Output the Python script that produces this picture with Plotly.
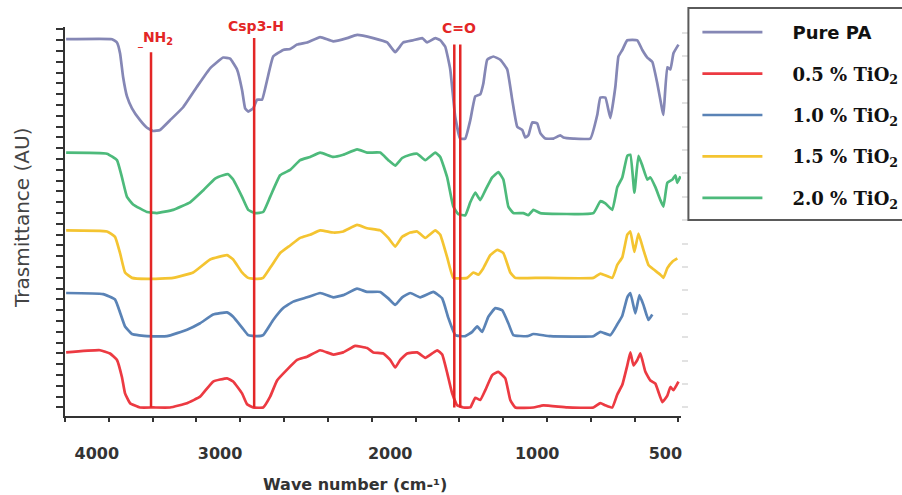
import plotly.graph_objects as go

# ---------------- data (wavenumber, transmittance AU) ----------------
pure_wn = [4190, 3906, 3875, 3856, 3837, 3813, 3782, 3732, 3689, 3651,
           3608, 3546, 3465, 3379, 3298, 3217, 3174, 3131, 3100, 3081,
           3062, 3031, 3007, 2976, 2945, 2907, 2845, 2802, 2759, 2697,
           2616, 2535, 2449, 2387, 2287, 2201, 2151, 2101, 2039, 1984,
           1953, 1903, 1872, 1841, 1810, 1779, 1748, 1717, 1686, 1655,
           1624, 1605, 1581, 1543, 1500, 1457, 1426, 1395, 1364, 1345,
           1326, 1302, 1271, 1252, 1221, 1171, 1128, 1109, 1047, 942,
           899, 880, 849, 818, 787, 768, 744, 713, 651, 620,
           589, 558, 527, 496, 489, 465, 446, 427, 396]
pure_t = [34.1, 34.1, 33.8, 32.8, 30.6, 28.8, 27.7, 26.6, 25.9, 25.6,
          25.7, 26.6, 27.8, 29.7, 31.4, 32.4, 32.3, 31.3, 29.4, 27.7,
          27.4, 27.7, 28.5, 28.5, 30.3, 32.5, 33.1, 33.2, 33.6, 33.8,
          34.3, 33.9, 34.2, 34.5, 34.2, 33.8, 32.9, 33.8, 34.0, 34.2,
          33.8, 34.2, 34.0, 33.4, 31.3, 26.9, 24.9, 24.9, 26.6, 28.8,
          29.0, 30.0, 32.2, 32.5, 32.2, 31.3, 28.5, 26.0, 25.7, 25.0,
          25.2, 26.4, 26.3, 25.4, 24.9, 24.9, 25.2, 25.0, 24.9, 24.9,
          27.1, 28.7, 28.7, 26.8, 29.7, 32.5, 33.1, 34.0, 34.0, 33.1,
          32.4, 32.0, 30.0, 27.5, 27.1, 31.5, 31.3, 32.8, 33.6]

tio2_05_wn = [4190, 3980, 3918, 3875, 3844, 3825, 3794, 3732, 3651, 3546,
              3441, 3360, 3279, 3193, 3155, 3100, 3069, 3031, 2969, 2926,
              2883, 2821, 2759, 2697, 2616, 2535, 2473, 2399, 2325, 2287,
              2225, 2182, 2151, 2120, 2077, 2015, 1965, 1922, 1891, 1860,
              1829, 1798, 1767, 1729, 1686, 1655, 1624, 1593, 1550, 1512,
              1469, 1438, 1407, 1295, 1233, 1085, 923, 880, 849, 806,
              775, 744, 713, 694, 675, 651, 632, 601, 570, 539,
              496, 465, 446, 427, 396]
tio2_05_t = [5.1, 5.3, 5.0, 4.4, 2.8, 1.3, 0.4, 0.0, 0.0, 0.0,
             0.4, 1.0, 2.4, 2.7, 2.4, 1.3, 0.3, 0.0, 0.0, 1.0,
             2.5, 3.5, 4.4, 4.7, 5.3, 4.9, 5.1, 5.7, 5.5, 5.1,
             5.0, 4.4, 3.7, 4.4, 5.0, 5.1, 4.6, 5.0, 5.3, 4.9,
             3.2, 1.3, 0.2, 0.0, 0.0, 0.9, 0.7, 1.6, 3.0, 3.3,
             2.7, 0.7, 0.0, 0.0, 0.2, 0.0, 0.0, 0.4, 0.2, 0.0,
             1.2, 2.1, 3.9, 5.1, 3.9, 4.4, 5.0, 3.3, 2.5, 2.2,
             0.5, 1.1, 1.9, 1.6, 2.4]

tio2_10_wn = [4190, 3961, 3887, 3856, 3825, 3782, 3689, 3565, 3441, 3360,
              3279, 3193, 3155, 3100, 3062, 3007, 2969, 2907, 2845, 2783,
              2697, 2616, 2535, 2473, 2387, 2325, 2244, 2194, 2151, 2108,
              2058, 1996, 1915, 1860, 1822, 1779, 1717, 1674, 1643, 1612,
              1574, 1531, 1488, 1450, 1419, 1333, 1295, 1190, 923, 880,
              818, 775, 744, 713, 694, 663, 638, 613, 582, 558]
tio2_10_t = [10.6, 10.5, 10.0, 8.8, 7.5, 6.8, 6.6, 6.6, 7.2, 7.8,
             8.6, 8.8, 8.4, 7.4, 6.7, 6.6, 6.7, 8.1, 9.2, 9.8,
             10.2, 10.6, 10.2, 10.4, 11.0, 10.7, 10.7, 10.1, 9.5, 10.2,
             10.6, 10.2, 10.7, 10.1, 8.3, 6.7, 6.6, 7.0, 7.5, 7.0,
             8.4, 9.2, 9.0, 7.8, 6.7, 6.6, 6.8, 6.6, 6.6, 7.0,
             6.7, 7.7, 8.5, 10.2, 10.6, 8.7, 10.4, 9.5, 8.1, 8.6]

tio2_15_wn = [4190, 3937, 3887, 3856, 3825, 3782, 3689, 3527, 3403, 3298,
              3193, 3155, 3100, 3062, 3007, 2969, 2914, 2864, 2802, 2740,
              2678, 2616, 2535, 2473, 2387, 2325, 2244, 2194, 2151, 2108,
              2058, 2015, 1965, 1903, 1872, 1829, 1791, 1705, 1667, 1636,
              1605, 1562, 1519, 1481, 1438, 1407, 1252, 923, 880, 806,
              775, 744, 713, 694, 669, 644, 613, 582, 551, 508,
              489, 465, 434, 403]
tio2_15_t = [16.4, 16.3, 15.8, 14.3, 12.5, 12.0, 11.9, 12.0, 12.5, 13.7,
             14.1, 13.7, 12.5, 12.0, 11.9, 12.0, 13.2, 14.3, 15.0, 15.7,
             16.0, 16.4, 16.2, 16.3, 16.9, 16.6, 16.4, 15.7, 14.9, 15.8,
             16.2, 16.3, 15.7, 16.4, 16.0, 13.9, 12.0, 12.0, 12.5, 12.3,
             12.9, 14.1, 14.6, 14.3, 12.5, 12.0, 12.0, 12.0, 12.4, 12.0,
             13.2, 13.9, 16.0, 16.3, 14.4, 16.1, 14.6, 13.2, 12.8, 12.3,
             12.0, 12.9, 13.5, 13.8]

tio2_20_wn = [4190, 3937, 3875, 3844, 3813, 3775, 3689, 3627, 3527, 3422,
              3341, 3267, 3217, 3186, 3155, 3100, 3062, 3019, 2969, 2926,
              2864, 2802, 2740, 2678, 2616, 2535, 2473, 2387, 2325, 2244,
              2194, 2151, 2108, 2058, 2015, 1965, 1903, 1872, 1829, 1791,
              1760, 1717, 1686, 1655, 1624, 1593, 1550, 1512, 1481, 1450,
              1419, 1357, 1326, 1295, 1252, 923, 880, 849, 806, 775,
              744, 713, 694, 669, 644, 620, 589, 570, 539, 508,
              489, 465, 434, 415, 403, 384]
tio2_20_t = [23.6, 23.5, 22.9, 21.3, 19.5, 18.8, 18.1, 18.0, 18.3, 19.0,
             20.1, 21.2, 21.5, 21.6, 21.1, 19.5, 18.3, 18.0, 18.1, 19.5,
             21.5, 22.0, 22.9, 23.2, 23.6, 23.2, 23.4, 23.9, 23.6, 23.6,
             22.9, 22.4, 23.1, 23.4, 23.5, 22.9, 23.6, 23.2, 21.3, 18.6,
             17.9, 17.8, 19.0, 19.9, 19.2, 20.1, 21.3, 21.8, 21.1, 18.6,
             18.0, 18.0, 17.8, 18.3, 18.0, 18.0, 19.1, 18.9, 18.3, 20.4,
             21.3, 23.3, 23.4, 19.9, 23.3, 22.4, 21.1, 21.3, 20.4, 19.2,
             18.6, 20.8, 21.1, 21.5, 20.8, 21.4]

series_names = ["Pure PA", "0.5 % TiO2", "1.0 % TiO2", "1.5 % TiO2", "2.0 % TiO2"]

# band markers: label, wavenumbers of the marker line(s), top of line (AU)
band_labels = ["<sub>_</sub>NH<sub>2</sub>", "Csp3-H", "C=O"]
band_lines = [[3664], [3025], [1785, 1748]]
band_line_top = [32.9, 34.2, 33.6]

tick_positions = [4000, 3236, 2182, 1271, 477]
tick_labels = ["4000", "3000", "2000", "1000", "500"]

# ---------------- figure ----------------
colors = ["#8587b5", "#ec3a42", "#5a83b6", "#f4c431", "#4dba7b"]
xs = [pure_wn, tio2_05_wn, tio2_10_wn, tio2_15_wn, tio2_20_wn]
ys = [pure_t, tio2_05_t, tio2_10_t, tio2_15_t, tio2_20_t]

PAD = "\u00a0\u00a0\u00a0\u00a0"
legend_text = [
    "<span style='font-family:DejaVu Sans'>" + PAD + "Pure PA</span>",
    PAD + "0.5 % TiO<sub>2</sub>",
    PAD + "1.0 % TiO<sub>2</sub>",
    PAD + "1.5 % TiO<sub>2</sub>",
    PAD + "2.0 % TiO<sub>2</sub>",
]

fig = go.Figure()
for i in range(5):
    fig.add_trace(go.Scatter(
        x=xs[i], y=ys[i], mode="lines", name=legend_text[i],
        legendgroup="g%d" % i,
        line=dict(color=colors[i], width=2.7, shape="spline", smoothing=0.35),
    ))

# invisible trace to anchor the faint right-hand axis
fig.add_trace(go.Scatter(x=[None], y=[None], yaxis="y2", showlegend=False,
                         hoverinfo="skip"))

RED = "#e32626"
shapes = []
for xs_line, top in zip(band_lines, band_line_top):
    for xv in xs_line:
        shapes.append(dict(type="line", xref="x", yref="y", x0=xv, x1=xv,
                           y0=0.0, y1=top, line=dict(color=RED, width=2.5)))

PW = 615.6
PH = 389.0
def px2paper_x(px):
    return (px - 65) / PW
def py2paper_y(py):
    return (416 - py) / PH

# legend frame
shapes.append(dict(type="rect", xref="paper", yref="paper",
                   x0=px2paper_x(688), x1=px2paper_x(915),
                   y0=py2paper_y(220), y1=py2paper_y(8),
                   line=dict(color="#5a5a5a", width=2), fillcolor="rgba(0,0,0,0)"))

band_label_px = [(155, 39), (256, 26), (459, 28)]
annotations = []
for txt, (lx, ly) in zip(band_labels, band_label_px):
    annotations.append(dict(x=px2paper_x(lx), y=py2paper_y(ly), xref="paper",
                            yref="paper", text=txt,
                            showarrow=False, xanchor="center", yanchor="middle",
                            font=dict(family="DejaVu Sans", size=14, color=RED,
                                      weight="bold")))

annotations.append(dict(x=px2paper_x(355), y=py2paper_y(484), xref="paper",
                        yref="paper", text="Wave number (cm-\u00b9)",
                        showarrow=False, xanchor="center", yanchor="middle",
                        font=dict(family="DejaVu Sans", size=16, color="#333333",
                                  weight="bold")))
annotations.append(dict(x=px2paper_x(22), y=py2paper_y(218), xref="paper",
                        yref="paper", text="Trasmittance (AU)", textangle=-90,
                        showarrow=False, xanchor="center", yanchor="middle",
                        font=dict(family="DejaVu Sans", size=20, color="#444444")))

fig.update_layout(
    width=902, height=495,
    margin=dict(l=65, r=902 - 65 - 616, t=27, b=79, autoexpand=False),
    paper_bgcolor="white", plot_bgcolor="white",
    showlegend=True,
    legend=dict(x=px2paper_x(697), y=py2paper_y(14), xanchor="left", yanchor="top",
                bgcolor="rgba(0,0,0,0)", borderwidth=0, itemwidth=60,
                tracegroupgap=15, traceorder="grouped",
                font=dict(family="DejaVu Serif", size=18, color="#111111",
                          weight="bold")),
    xaxis=dict(range=[4197, 380.3], showgrid=False, zeroline=False,
               showline=True, linecolor="#333333", linewidth=2,
               tickmode="array", tickvals=tick_positions, ticktext=tick_labels,
               ticks="", ticklabelstandoff=22,
               tickfont=dict(family="DejaVu Sans", size=16, color="#333333",
                             weight="bold"),
               minor=dict(ticks="outside", ticklen=4, tickwidth=2,
                          tickcolor="#333333", tickmode="linear",
                          tick0=4197, dtick=271.5)),
    yaxis=dict(range=[-0.79, 35.23], showgrid=False, zeroline=False,
               showline=True, linecolor="#333333", linewidth=2,
               tickmode="linear", tick0=0, dtick=1, ticks="outside",
               ticklen=7, tickwidth=2, tickcolor="#333333",
               showticklabels=False),
    yaxis2=dict(range=[-0.79, 35.23], overlaying="y", side="right",
                showgrid=False, zeroline=False, showline=False,
                tickmode="linear", tick0=0, dtick=2.1667, ticks="outside",
                ticklen=6, tickwidth=2, tickcolor="#e2e2e2",
                showticklabels=False),
    shapes=shapes,
    annotations=annotations,
)

fig.write_html("out.html")
